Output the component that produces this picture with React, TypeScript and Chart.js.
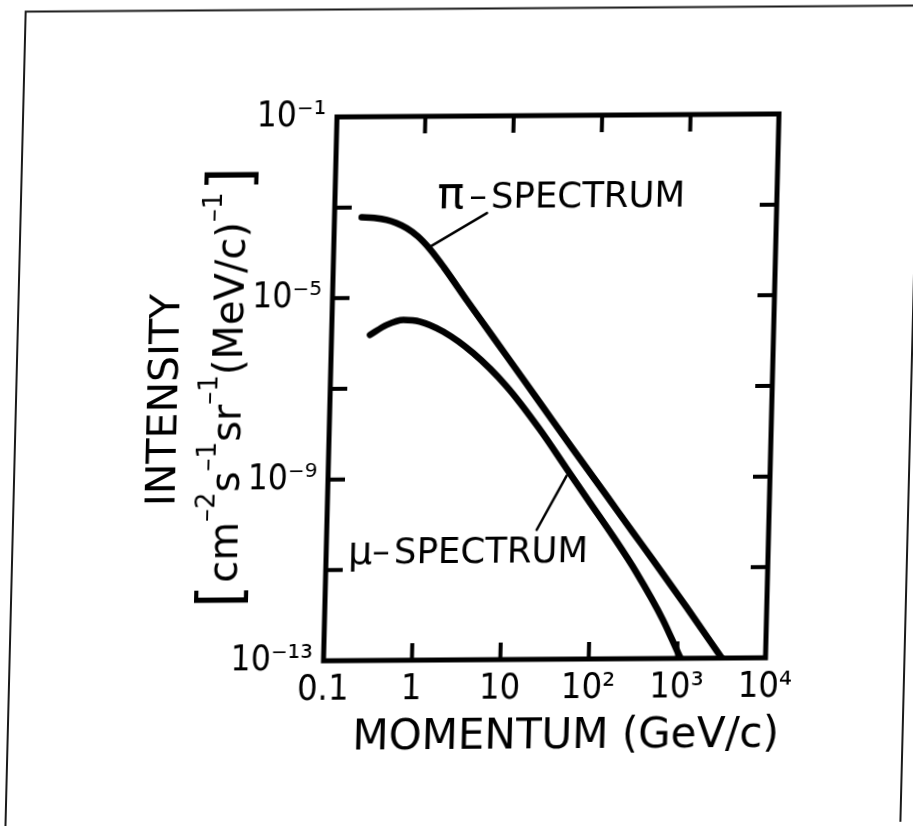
import React, { useEffect, useRef } from 'react';
import { Chart, registerables } from 'chart.js';

Chart.register(...registerables);

// ---- data ----
const piMomentum = [0.203, 0.282, 0.391, 0.501, 0.661, 0.891, 1.227, 1.778, 3.304, 9.75, 23.88, 58.3, 143.5, 293.8, 498.9, 1236, 3199];
const piIntensity = [6.07e-4, 5.82e-4, 5.24e-4, 4.47e-4, 3.42e-4, 2.24e-4, 1.175e-4, 4.68e-5, 8.71e-6, 4.91e-7, 4.55e-8, 4.24e-9, 3.98e-10, 6.03e-11, 1.51e-11, 1.35e-12, 1.0e-13];

const muMomentum = [0.272, 0.418, 0.643, 0.99, 1.83, 4.06, 9.9, 24.2, 49.9, 93.3, 175, 330, 675, 1020, 1096];
const muIntensity = [1.53e-6, 2.53e-6, 3.24e-6, 2.96e-6, 1.76e-6, 5.82e-7, 1.06e-7, 1.175e-8, 1.585e-9, 2.82e-10, 5.0e-11, 7.8e-12, 7.1e-13, 1.33e-13, 1.0e-13];

const xTickValues = [0.1, 1, 10, 100, 1000, 10000];
const xTickLabels = ['0.1', '1', '10', '10²', '10³', '10⁴'];
const yTickValues = [1e-13, 1e-11, 1e-9, 1e-7, 1e-5, 1e-3, 1e-1];
const yTickLabels = ['10⁻¹³', '', '10⁻⁹', '', '10⁻⁵', '', '10⁻¹'];
const innerTicksX = [1, 10, 100, 1000];
const innerTicksY = [1e-11, 1e-9, 1e-7, 1e-5, 1e-3];

const seriesNames = ['π', 'μ'];
const seriesSuffix = 'SPECTRUM';
const labelAnchorX = [1.43, 0.177];
const labelAnchorY = [9.5e-4, 1.38e-11];
const leaderStartX = [5.3, 50.1];
const leaderStartY = [7.2e-4, 1.12e-9];
const leaderEndX = [1.22, 23.7];
const leaderEndY = [1.31e-4, 7.2e-11];

const xTitle = 'MOMENTUM (GeV/c)';
const yTitleLine1 = 'INTENSITY';

const TITLE_FONT = "'DejaVu Sans', sans-serif";
const TICK_FONT = "'Liberation Sans Narrow', 'DejaVu Sans Condensed', 'DejaVu Sans', sans-serif";

type Seg = { t: string; size: number; dy?: number; gap?: number };

function drawRich(ctx: CanvasRenderingContext2D, segs: Seg[], x: number, y: number, align: 'left' | 'center') {
  ctx.textAlign = 'left';
  ctx.textBaseline = 'alphabetic';
  const widths = segs.map((s) => {
    ctx.font = `${s.size}px ${TITLE_FONT}`;
    return ctx.measureText(s.t).width;
  });
  let total = 0;
  segs.forEach((s, i) => (total += widths[i] + (s.gap || 0)));
  let cx = align === 'center' ? x - total / 2 : x;
  segs.forEach((s, i) => {
    cx += s.gap || 0;
    ctx.font = `${s.size}px ${TITLE_FONT}`;
    ctx.fillText(s.t, cx, y + (s.dy || 0));
    cx += widths[i];
  });
}

const SUP = 26;
const SUP_DY = -24;
const yTitleLine2: Seg[] = [
  { t: '[', size: 60, dy: 4 },
  { t: 'cm', size: 40, gap: 2 },
  { t: '–2', size: SUP, dy: SUP_DY },
  { t: 's', size: 40 },
  { t: '–1', size: SUP, dy: SUP_DY },
  { t: 'sr', size: 40 },
  { t: '–1', size: SUP, dy: SUP_DY },
  { t: '(MeV/c)', size: 40 },
  { t: '–1', size: SUP, dy: SUP_DY },
  { t: ']', size: 60, dy: 4, gap: 2 },
];

const labelSegs: Seg[][] = [
  [
    { t: seriesNames[0], size: 45 },
    { t: '–', size: 35.5, gap: 5 },
    { t: seriesSuffix, size: 35.5, gap: 4 },
  ],
  [
    { t: seriesNames[1], size: 38 },
    { t: '–', size: 35.5, gap: 0 },
    { t: seriesSuffix, size: 35.5, gap: 4 },
  ],
];

const decorPlugin = {
  id: 'decor',
  beforeDraw(chart: any) {
    const ctx = chart.ctx as CanvasRenderingContext2D;
    ctx.save();
    ctx.fillStyle = '#ffffff';
    ctx.fillRect(0, 0, chart.width, chart.height);
    ctx.strokeStyle = '#1a1a1a';
    ctx.lineWidth = 2;
    ctx.strokeRect(16, 9.5, 895, 900);
    ctx.restore();
  },
  beforeDatasetsDraw(chart: any) {
    const ctx = chart.ctx as CanvasRenderingContext2D;
    const { left, right, top, bottom } = chart.chartArea;
    const xs = chart.scales.x;
    const ys = chart.scales.y;
    ctx.save();
    ctx.strokeStyle = '#000';
    ctx.lineWidth = 4;
    ctx.lineCap = 'butt';
    const L = 17;
    innerTicksX.forEach((v) => {
      const px = xs.getPixelForValue(v);
      ctx.beginPath();
      ctx.moveTo(px, bottom);
      ctx.lineTo(px, bottom - L);
      ctx.moveTo(px, top);
      ctx.lineTo(px, top + L);
      ctx.stroke();
    });
    innerTicksY.forEach((v) => {
      const py = ys.getPixelForValue(v);
      ctx.beginPath();
      ctx.moveTo(left, py);
      ctx.lineTo(left + L, py);
      ctx.moveTo(right, py);
      ctx.lineTo(right - L, py);
      ctx.stroke();
    });
    ctx.restore();
  },
  afterDraw(chart: any) {
    const ctx = chart.ctx as CanvasRenderingContext2D;
    const { left, right, top, bottom } = chart.chartArea;
    const xs = chart.scales.x;
    const ys = chart.scales.y;
    ctx.save();
    // plot box
    ctx.strokeStyle = '#000';
    ctx.lineWidth = 5;
    ctx.lineJoin = 'miter';
    ctx.strokeRect(left, top, right - left, bottom - top);

    // leader lines
    ctx.lineWidth = 2.5;
    ctx.lineCap = 'round';
    for (let i = 0; i < seriesNames.length; i++) {
      ctx.beginPath();
      ctx.moveTo(xs.getPixelForValue(leaderStartX[i]), ys.getPixelForValue(leaderStartY[i]));
      ctx.lineTo(xs.getPixelForValue(leaderEndX[i]), ys.getPixelForValue(leaderEndY[i]));
      ctx.stroke();
    }

    // series labels
    ctx.fillStyle = '#000';
    for (let i = 0; i < seriesNames.length; i++) {
      const ax = xs.getPixelForValue(labelAnchorX[i]);
      const ay = ys.getPixelForValue(labelAnchorY[i]);
      drawRich(ctx, labelSegs[i], ax, ay, 'left');
    }

    // x axis title
    const cxTitle = (left + right) / 2 + 23;
    ctx.font = `42px ${TITLE_FONT}`;
    ctx.textAlign = 'center';
    ctx.textBaseline = 'alphabetic';
    ctx.fillText(xTitle, cxTitle, bottom + 89);

    // y axis title (rotated)
    const midY = (top + bottom) / 2;
    ctx.save();
    ctx.translate(177, midY + 10);
    ctx.rotate(-Math.PI / 2);
    ctx.font = `41px ${TITLE_FONT}`;
    ctx.textAlign = 'center';
    ctx.textBaseline = 'alphabetic';
    ctx.fillText(yTitleLine1, 0, 0);
    ctx.restore();

    ctx.save();
    ctx.translate(241, midY - 2);
    ctx.rotate(-Math.PI / 2);
    drawRich(ctx, yTitleLine2, 0, 0, 'center');
    ctx.restore();

    ctx.restore();
  },
};

export default function App() {
  const ref = useRef<HTMLCanvasElement | null>(null);

  useEffect(() => {
    if (!ref.current) return;
    const piData = piMomentum.map((x, i) => ({ x, y: piIntensity[i] }));
    const muData = muMomentum.map((x, i) => ({ x, y: muIntensity[i] }));

    const chart = new Chart(ref.current, {
      type: 'scatter',
      data: {
        datasets: [
          {
            label: 'π-SPECTRUM',
            data: piData,
            showLine: true,
            borderColor: '#000',
            borderWidth: 6.5,
            pointRadius: 0,
            cubicInterpolationMode: 'monotone',
            borderCapStyle: 'round',
          } as any,
          {
            label: 'μ-SPECTRUM',
            data: muData,
            showLine: true,
            borderColor: '#000',
            borderWidth: 6.5,
            pointRadius: 0,
            cubicInterpolationMode: 'monotone',
            borderCapStyle: 'round',
          } as any,
        ],
      },
      options: {
        animation: false,
        responsive: false,
        devicePixelRatio: 1,
        layout: { padding: 0 },
        plugins: { legend: { display: false }, tooltip: { enabled: false } },
        scales: {
          x: {
            type: 'logarithmic',
            position: 'bottom',
            min: 0.1,
            max: 10000,
            grid: { display: false, drawTicks: false },
            border: { display: false },
            afterBuildTicks: (s: any) => {
              s.ticks = xTickValues.map((value) => ({ value }));
            },
            afterFit: (s: any) => {
              s.height = 165;
            },
            ticks: {
              autoSkip: false,
              maxRotation: 0,
              minRotation: 0,
              padding: 8,
              color: '#000',
              font: { family: TICK_FONT, size: 36 },
              callback: (_v: any, i: number) => xTickLabels[i],
            },
          },
          x2: {
            type: 'logarithmic',
            position: 'top',
            min: 0.1,
            max: 10000,
            grid: { display: false, drawTicks: false },
            border: { display: false },
            ticks: { display: false },
            afterFit: (s: any) => {
              s.height = 117;
            },
          },
          y: {
            type: 'logarithmic',
            position: 'left',
            min: 1e-13,
            max: 1e-1,
            grid: { display: false, drawTicks: false },
            border: { display: false },
            afterBuildTicks: (s: any) => {
              s.ticks = yTickValues.map((value) => ({ value }));
            },
            afterFit: (s: any) => {
              s.width = 330;
            },
            ticks: {
              autoSkip: false,
              padding: 11,
              color: '#000',
              font: { family: TICK_FONT, size: 35 },
              callback: (_v: any, i: number) => yTickLabels[i],
            },
          },
          y2: {
            type: 'logarithmic',
            position: 'right',
            min: 1e-13,
            max: 1e-1,
            grid: { display: false, drawTicks: false },
            border: { display: false },
            ticks: { display: false },
            afterFit: (s: any) => {
              s.width = 141;
            },
          },
        },
      } as any,
      plugins: [decorPlugin],
    });
    return () => chart.destroy();
  }, []);

  return (
    <div
      style={{
        position: 'fixed',
        left: 0,
        top: 0,
        width: 913,
        height: 826,
        overflow: 'hidden',
        background: '#ffffff',
      }}
    >
      <canvas
        ref={ref}
        width={913}
        height={826}
        style={{
          display: 'block',
          width: 913,
          height: 826,
          transformOrigin: '0 0',
          transform: 'matrix(1, -0.0068, -0.0248, 1, 9.9, 2.24)',
        }}
      />
    </div>
  );
}
